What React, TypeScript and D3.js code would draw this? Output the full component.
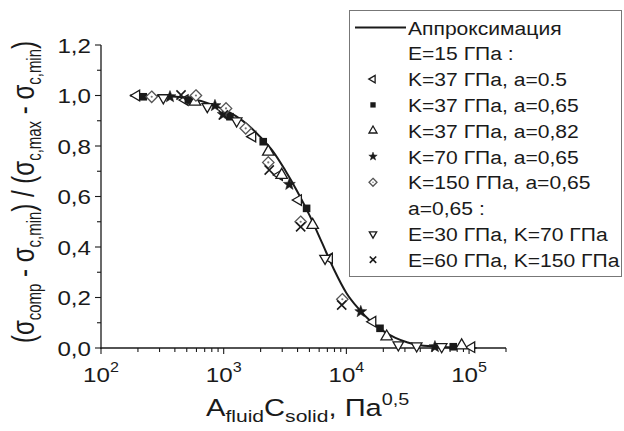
import React from 'react';
import * as d3 from 'd3';

// Approximation curve
const curveX = [172, 316, 501, 794, 1000, 1259, 1585, 1995, 2512, 3162, 3981, 5012, 6310, 7943, 10000, 12589, 15849, 19953, 25119, 31623, 39811, 63096, 100000, 115000];
const curveY = [1.0, 0.998, 0.99, 0.965, 0.945, 0.918, 0.882, 0.835, 0.78, 0.705, 0.62, 0.525, 0.418, 0.31, 0.218, 0.155, 0.105, 0.068, 0.04, 0.022, 0.011, 0.004, 0.001, 0.0];

// Series data
const k37a05X = [195, 484, 1722, 2840, 4060, 7260, 16400, 105000];
const k37a05Y = [1.0, 0.982, 0.837, 0.685, 0.586, 0.355, 0.104, 0.003];
const k37a065X = [221, 515, 1125, 2100, 4740, 18800, 74300];
const k37a065Y = [0.995, 0.982, 0.916, 0.817, 0.553, 0.078, 0.005];
const k37a082X = [583, 2310, 2970, 5310, 21300, 87000];
const k37a082Y = [0.975, 0.777, 0.685, 0.487, 0.045, 0.01];
const k70a065X = [365, 849, 990, 3430, 13100, 52700];
const k70a065Y = [0.995, 0.96, 0.925, 0.648, 0.144, 0.005];
const k150a065X = [259, 594, 1045, 1511, 2310, 4240, 9270];
const k150a065Y = [0.995, 1.0, 0.949, 0.87, 0.735, 0.5, 0.193];
const e30k70X = [322, 735, 1276, 6700, 26500, 37400, 59800];
const e30k70Y = [0.991, 0.956, 0.899, 0.355, 0.012, 0.008, 0.005];
const e60k150X = [449, 993, 2350, 4240, 9160];
const e60k150Y = [1.002, 0.923, 0.705, 0.48, 0.17];

const yTicks = [0, 0.2, 0.4, 0.6, 0.8, 1.0, 1.2];
const yTickLabels = ['0,0', '0,2', '0,4', '0,6', '0,8', '1,0', '1,2'];
const xTickExps = [2, 3, 4, 5];

const legendLabels = [
  'Аппроксимация',
  'E=15 ГПа :',
  'K=37 ГПа, a=0.5',
  'K=37 ГПа, a=0,65',
  'K=37 ГПа, a=0,82',
  'K=70 ГПа, a=0,65',
  'K=150 ГПа, a=0,65',
  'a=0,65 :',
  'E=30 ГПа, K=70 ГПа',
  'E=60 ГПа, K=150 ГПа',
];
const legendSymbols = ['line', '', 'tl', 'sq', 'tu', 'star', 'dia', '', 'td', 'x'];

const series = [
  { xs: k37a05X, ys: k37a05Y, sym: 'tl' },
  { xs: k37a065X, ys: k37a065Y, sym: 'sq' },
  { xs: k37a082X, ys: k37a082Y, sym: 'tu' },
  { xs: k70a065X, ys: k70a065Y, sym: 'star' },
  { xs: k150a065X, ys: k150a065Y, sym: 'dia' },
  { xs: e30k70X, ys: e30k70Y, sym: 'td' },
  { xs: e60k150X, ys: e60k150Y, sym: 'x' },
];

const FONT = 'Arial, "Liberation Sans", sans-serif';
const INK = '#1a1a1a';

function triPath(s: number, rot: number) {
  const h = s * 0.866;
  const pts = [[0, -2 * h / 3], [s / 2, h / 3], [-s / 2, h / 3]].map(([x, y]) => {
    const a = (rot * Math.PI) / 180;
    return [x * Math.cos(a) - y * Math.sin(a), x * Math.sin(a) + y * Math.cos(a)];
  });
  return 'M' + pts.map((p) => p[0].toFixed(2) + ',' + p[1].toFixed(2)).join('L') + 'Z';
}

function starPath(r: number) {
  const pts: string[] = [];
  for (let i = 0; i < 10; i++) {
    const rr = i % 2 === 0 ? r : r * 0.42;
    const a = -Math.PI / 2 + (i * Math.PI) / 5;
    pts.push((rr * Math.cos(a)).toFixed(2) + ',' + (rr * Math.sin(a)).toFixed(2));
  }
  return 'M' + pts.join('L') + 'Z';
}

function Marker({ sym, x, y, k }: { sym: string; x: number; y: number; k: number }) {
  const t = `translate(${x},${y})`;
  const sw = 1.3;
  if (sym === 'tl') return <path transform={t} d={triPath(10.5 * k, -90)} fill="white" stroke={INK} strokeWidth={sw} />;
  if (sym === 'tu') return <path transform={t} d={triPath(11.5 * k, 0)} fill="white" stroke={INK} strokeWidth={sw} />;
  if (sym === 'td') return <path transform={t} d={triPath(10.5 * k, 180)} fill="white" stroke={INK} strokeWidth={sw} />;
  if (sym === 'sq') {
    const h = 3.8 * k;
    return <rect x={x - h} y={y - h} width={2 * h} height={2 * h} fill={INK} />;
  }
  if (sym === 'star') return <path transform={t} d={starPath(6.3 * k)} fill={INK} stroke={INK} strokeWidth={0.5} />;
  if (sym === 'dia') {
    const r = 5.7 * k;
    return (
      <g transform={t}>
        <path d={`M0,${-r}L${r},0L0,${r}L${-r},0Z`} fill="white" stroke="#555" strokeWidth={sw} />
        <circle r={1.1 * k} fill="#777" />
      </g>
    );
  }
  if (sym === 'x') {
    const r = 4.6 * k;
    return <path transform={t} d={`M${-r},${-r}L${r},${r}M${-r},${r}L${r},${-r}`} stroke={INK} strokeWidth={1.6} fill="none" />;
  }
  return null;
}

export default function App() {
  const W = 624, H = 431;
  const x = d3.scaleLog().domain([100, 200000]).range([101, 506]);
  const y = d3.scaleLinear().domain([0, 1.2]).range([348, 45]);

  const line = d3
    .line<number>()
    .x((_, i) => x(curveX[i]))
    .y((d) => y(d))
    .curve(d3.curveMonotoneX);

  const yMinor = d3.range(0, 13).map((i) => i / 10);
  const xMinor: number[] = [];
  for (let e = 2; e <= 5; e++) for (let m = 1; m <= 9; m++) {
    const v = m * Math.pow(10, e);
    if (v <= 200000) xMinor.push(v);
  }

  const sxT = 1.15;
  const legRow = (i: number) => 27.5 + i * 25.8;

  return (
    <svg width={W} height={H} style={{ position: 'absolute', left: 0, top: 0, background: 'white' }} fontFamily={FONT}>
      <rect width={W} height={H} fill="white" />
      {/* axes */}
      <line x1={101} x2={101} y1={45} y2={349} stroke={INK} strokeWidth={1.3} />
      <line x1={100.5} x2={506} y1={348} y2={348} stroke={INK} strokeWidth={1.3} />
      {yMinor.map((v, i) => (
        <line key={'ym' + i} x1={101} x2={i % 2 === 0 ? 95 : 97} y1={y(v)} y2={y(v)} stroke={INK} strokeWidth={1.1} />
      ))}
      {xMinor.map((v, i) => {
        const major = Math.abs(Math.log10(v) - Math.round(Math.log10(v))) < 1e-9;
        return <line key={'xm' + i} x1={x(v)} x2={x(v)} y1={348} y2={major ? 354 : 352} stroke={INK} strokeWidth={1.1} />;
      })}
      {yTicks.map((v, i) => (
        <text key={'yl' + i} transform={`translate(91,${y(v) + 7.5}) scale(${sxT},1)`} textAnchor="end" fontSize={21} fill={INK}>
          {yTickLabels[i]}
        </text>
      ))}
      {xTickExps.map((e) => (
        <text key={'xl' + e} transform={`translate(${x(Math.pow(10, e))},382) scale(${sxT},1)`} textAnchor="middle" fontSize={21} fill={INK}>
          10<tspan fontSize={14} dy={-10}>{e}</tspan>
        </text>
      ))}
      {/* axis titles */}
      <text transform={`translate(206,416) scale(1.24,1)`} fontSize={23.5} fill={INK}>
        A<tspan fontSize={17} dy={6}>fluid</tspan>
        <tspan dy={-6}>C</tspan>
        <tspan fontSize={17} dy={6}>solid</tspan>
        <tspan dy={-6}>, Па</tspan>
        <tspan fontSize={16} dy={-11}>0,5</tspan>
      </text>
      <text transform={`translate(34,192) scale(1.3,1) rotate(-90)`} textAnchor="middle" fontSize={24} fill={INK}>
        (σ<tspan fontSize={15} dy={5}>comp</tspan>
        <tspan dy={-5}> - σ</tspan>
        <tspan fontSize={15} dy={5}>c,min</tspan>
        <tspan dy={-5}>) / (σ</tspan>
        <tspan fontSize={15} dy={5}>c,max</tspan>
        <tspan dy={-5}> - σ</tspan>
        <tspan fontSize={15} dy={5}>c,min</tspan>
        <tspan dy={-5}>)</tspan>
      </text>
      {/* curve */}
      <path d={line(curveY) || ''} fill="none" stroke={INK} strokeWidth={2} />
      {/* markers */}
      {series.map((s, si) =>
        s.xs.map((xv, i) => <Marker key={si + '-' + i} sym={s.sym} x={x(xv)} y={y(s.ys[i])} k={1} />)
      )}
      {/* legend */}
      <rect x={349.5} y={10.5} width={272} height={266} fill="white" stroke="#777" strokeWidth={1} />
      {legendLabels.map((lab, i) => {
        const cy = legRow(i);
        const sym = legendSymbols[i];
        return (
          <g key={'lg' + i}>
            {sym === 'line' ? (
              <line x1={355} x2={406} y1={cy} y2={cy} stroke={INK} strokeWidth={2} />
            ) : sym ? (
              <Marker sym={sym} x={373} y={cy} k={0.7} />
            ) : null}
            <text transform={`translate(408,${cy + 7}) scale(1.11,1)`} fontSize={19} fill={INK}>
              {lab}
            </text>
          </g>
        );
      })}
    </svg>
  );
}
